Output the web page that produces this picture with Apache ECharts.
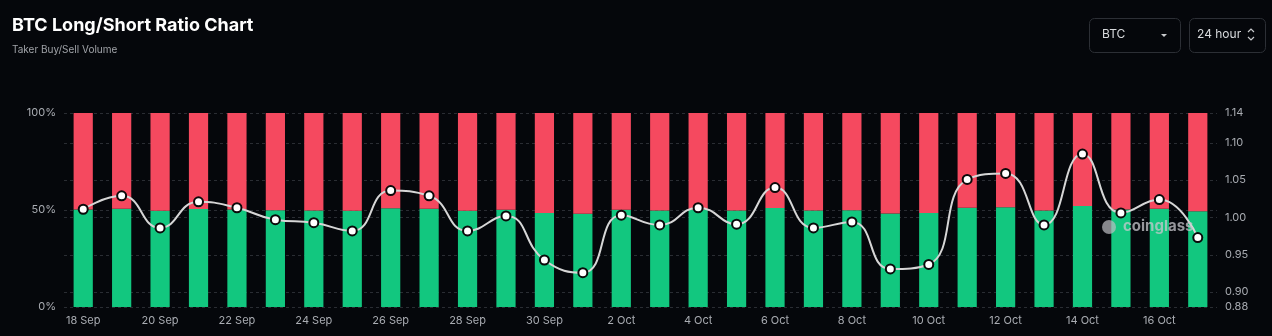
<!DOCTYPE html>
<html>
<head>
<meta charset="utf-8">
<script src="https://cdn.jsdelivr.net/npm/echarts@6/dist/echarts.min.js"></script>
<style>
html,body{margin:0;padding:0;background:#05070b;}
#c{width:1272px;height:336px;}
</style>
</head>
<body>
<div id="c"></div>
<script>
const categories = ['18 Sep','19 Sep','20 Sep','21 Sep','22 Sep','23 Sep','24 Sep','25 Sep','26 Sep','27 Sep','28 Sep','29 Sep','30 Sep','1 Oct','2 Oct','3 Oct','4 Oct','5 Oct','6 Oct','7 Oct','8 Oct','9 Oct','10 Oct','11 Oct','12 Oct','13 Oct','14 Oct','15 Oct','16 Oct','17 Oct'];
const longPct = [50.3,50.7,49.6,50.5,50.3,49.9,49.8,49.6,50.9,50.7,49.6,50.1,48.5,48.1,50.1,49.8,50.3,49.8,51.0,49.7,49.9,48.2,48.4,51.2,51.4,49.8,52.0,50.2,50.6,49.3];
const shortPct = longPct.map(v => +(100 - v).toFixed(1));
const ratio = [1.011,1.029,0.986,1.021,1.013,0.997,0.993,0.982,1.036,1.029,0.982,1.002,0.943,0.926,1.003,0.990,1.013,0.991,1.040,0.986,0.994,0.931,0.937,1.051,1.059,0.990,1.085,1.006,1.024,0.973];
const leftTicks = [0, 50, 100];
const rightTicks = [0.88, 0.90, 0.95, 1.00, 1.05, 1.10, 1.14];

const chart = echarts.init(document.getElementById('c'), null, {renderer:'canvas'});
const font = 'Inter, Roboto, "Noto Sans", sans-serif';
const splitStyle = {show:true, lineStyle:{color:'#2a2d33', type:[3,3], width:1}};
chart.setOption({
  backgroundColor:'#05070b',
  animation:false,
  title:{
    text:'BTC Long/Short Ratio Chart',
    subtext:'Taker Buy/Sell Volume',
    left:7, top:12,
    itemGap:10,
    textStyle:{color:'#ffffff', fontSize:18, fontWeight:'bold', fontFamily:font},
    subtextStyle:{color:'#a0a3a8', fontSize:10, fontFamily:font}
  },
  grid:{left:64, right:55, top:113, bottom:29},
  xAxis:{
    type:'category', data:categories,
    axisLine:{show:false}, axisTick:{show:false},
    axisLabel:{color:'#a9acb2', fontSize:11, fontFamily:font, interval:1, margin:8}
  },
  yAxis:[
    {type:'value', min:0, max:100, interval:50,
     axisLabel:{color:'#a9acb2', fontSize:11, fontFamily:font, formatter:'{value}%', margin:8},
     axisLine:{show:false}, axisTick:{show:false}, splitLine:splitStyle},
    {type:'value', min:0.88, max:1.14,
     axisLabel:{color:'#a9acb2', fontSize:11, fontFamily:font, margin:8,
       customValues:rightTicks, formatter:v => v.toFixed(2)},
     axisTick:{show:false, customValues:rightTicks},
     axisLine:{show:false}, splitLine:splitStyle}
  ],
  series:[
    {type:'bar', stack:'r', data:longPct, barWidth:'50%', itemStyle:{color:'#12c77f'}, yAxisIndex:0},
    {type:'bar', stack:'r', data:shortPct, barWidth:'50%', itemStyle:{color:'#f5495f'}, yAxisIndex:0},
    {type:'line', yAxisIndex:1, data:ratio, smooth:true, symbol:'circle', symbolSize:9,
     lineStyle:{color:'#d6d6d6', width:2},
     itemStyle:{color:'#ffffff', borderColor:'#0a0a0a', borderWidth:2}, z:5}
  ],
  graphic:[
    {type:'rect', left:1089, top:18, shape:{width:91, height:34, r:5}, style:{fill:'transparent', stroke:'#2c2f35', lineWidth:1}},
    {type:'text', left:1102, top:28, style:{text:'BTC', fill:'#d8dadd', font:'12px '+font}},
    {type:'polygon', shape:{points:[[1161,34],[1167,34],[1164,37]]}, style:{fill:'#c8cacd'}},
    {type:'rect', left:1189, top:18, shape:{width:76, height:34, r:5}, style:{fill:'transparent', stroke:'#2c2f35', lineWidth:1}},
    {type:'text', left:1197, top:28, style:{text:'24 hour', fill:'#d8dadd', font:'12px '+font}},
    {type:'polyline', shape:{points:[[1248,32],[1251,29],[1254,32]]}, style:{stroke:'#c8cacd', lineWidth:1.2, fill:null}},
    {type:'polyline', shape:{points:[[1248,37],[1251,40],[1254,37]]}, style:{stroke:'#c8cacd', lineWidth:1.2, fill:null}},
    {type:'text', left:1123, top:219, z:10, style:{text:'coinglass', fill:'rgba(200,200,205,0.75)', font:'bold 15px '+font}},
    {type:'circle', z:10, shape:{cx:1109, cy:227, r:7}, style:{fill:'rgba(190,190,195,0.7)'}}
  ]
});
</script>
</body>
</html>
